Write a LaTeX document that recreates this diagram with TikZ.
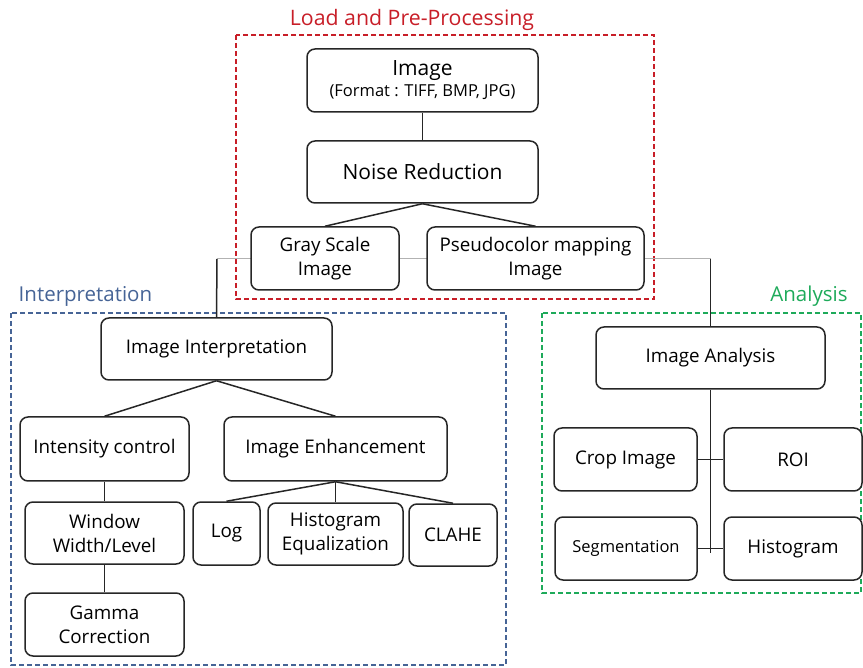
\documentclass[tikz,border=0pt]{standalone}
\usepackage{fontspec}
\setmainfont{Open Sans}
\definecolor{loadred}{RGB}{200,30,40}
\definecolor{interpblue}{RGB}{70,100,150}
\definecolor{anagreen}{RGB}{30,170,90}
\begin{document}
\begin{tikzpicture}[x=1pt,y=-1pt,line width=1.5pt,
  main node/.style={draw=black!85,rounded corners=8pt,fill=white,align=center,inner sep=0pt,font=\fontsize{18.8}{24}\selectfont},
  group/.style={dash pattern=on 5pt off 3pt,line width=1.1pt},
  title/.style={font=\fontsize{20.5}{24}\selectfont}]

\useasboundingbox (0,0) rectangle (863,668);

% groups
\draw[group,loadred] (236,35) rectangle (654,299);
\draw[group,interpblue] (11,313) rectangle (506,665);
\draw[group,anagreen] (542,313) rectangle (861,593);
\node[title,text=loadred,font=\fontsize{21.3}{24}\selectfont] at (412,20) (t1) {Load and Pre-Processing};
\node[title,text=interpblue,anchor=west,inner sep=0pt] at (18,296) (t2) {Interpretation};
\node[title,text=anagreen] at (809,296) (t3) {Analysis};

% thin line behind the pre-processing boxes
\coordinate (j1) at (217,259);
\coordinate (j2) at (710.5,259);
\draw[black!30,line width=1pt] (j1) -- (j2);

% load and pre-processing
\node[main node,minimum width=231pt,minimum height=63pt,font=\fontsize{21}{24}\selectfont] at (422.5,80.5) (1) {Image\\[-3pt]{\fontsize{16.5}{19}\selectfont (Format : TIFF, BMP, JPG)}};
\node[main node,minimum width=231pt,minimum height=62pt,font=\fontsize{21}{25}\selectfont] at (422.5,172) (2) {Noise Reduction};
\node[main node,minimum width=148pt,minimum height=63pt] at (325,258.5) (3) {Gray Scale\\Image};
\node[main node,minimum width=217pt,minimum height=63pt] at (535.5,258.5) (4) {Pseudocolor mapping\\Image};

% interpretation
\node[main node,minimum width=231pt,minimum height=62pt] at (216.5,349) (5) {Image Interpretation};
\node[main node,minimum width=169pt,minimum height=64pt] at (104.5,449) (6) {Intensity control};
\node[main node,minimum width=223pt,minimum height=64pt] at (335.5,449) (7) {Image Enhancement};
\node[main node,minimum width=159pt,minimum height=62pt] at (104.5,533) (8) {Window\\Width/Level};
\node[main node,minimum width=159pt,minimum height=63pt] at (104.5,624.5) (9) {Gamma\\Correction};
\node[main node,minimum width=67pt,minimum height=63pt] at (226.5,533.5) (10) {Log};
\node[main node,minimum width=135pt,minimum height=62pt] at (335.5,534) (11) {Histogram\\Equalization};
\node[main node,minimum width=88pt,minimum height=62pt] at (453,535) (12) {CLAHE};

% analysis
\node[main node,minimum width=229pt,minimum height=62pt] at (710.5,358) (13) {Image Analysis};
\node[main node,minimum width=143pt,minimum height=63pt] at (625.5,459.5) (14) {Crop Image};
\node[main node,minimum width=138pt,minimum height=63pt] at (793,459.5) (15) {ROI};
\node[main node,minimum width=142pt,minimum height=63pt,font=\fontsize{16.5}{19}\selectfont] at (626,548.5) (16) {Segmentation};
\node[main node,minimum width=138pt,minimum height=63pt] at (793,548.5) (17) {Histogram};
\coordinate (j3) at (710.5,553);

\path[draw=black!85]
  (1.south) edge (2.north)
  (2.south) edge (3.north)
  (2.south) edge (4.north)
  (j1) edge (5.north)
  (j2) edge (13.north)
  (5.south) edge (6.north)
  (5.south) edge (7.north)
  (6.south) edge (8.north)
  (8.south) edge (9.north)
  (7.south) edge (10.north)
  (7.south) edge (11.north)
  (7.south) edge (12.north)
  (13.south) edge (j3)
  (14.east) edge (15.west)
  (16.east) edge (17.west)
  ;

\end{tikzpicture}
\end{document}
